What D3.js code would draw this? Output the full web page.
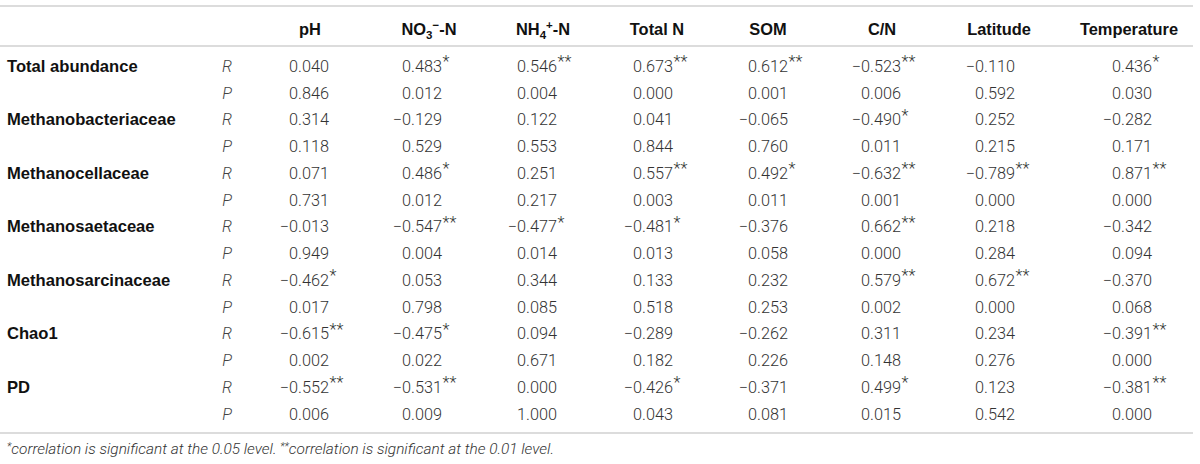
<!DOCTYPE html>
<head>
  <meta charset="utf-8">
  <script src="https://d3js.org/d3.v7.min.js"></script>
  <style>
    body { margin:0; background:#fff; }
    text { font-family: "Liberation Sans", Arial, sans-serif; }
    .lbl { font-weight: bold; fill: #111; font-size: 16.6px; }
    .hdr { font-weight: bold; fill: #111; font-size: 16.4px; }
    .num { font-family: Roboto, "Liberation Sans", sans-serif; font-weight: 300; fill: #333; font-size: 16.3px; }
    .rp { font-family: Roboto, "Liberation Sans", sans-serif; font-style: italic; font-weight: 300; fill: #444; font-size: 16.3px; }
    .note { font-family: Roboto, "Liberation Sans", sans-serif; font-style: italic; font-weight: 300; fill: #333; font-size: 15.4px; }
    .rule { stroke: #dcdcdc; stroke-width: 2px; }
  </style>
</head>
<body>
  <script>
    // column headers (parts: [text, "sub"|"sup"|null])
    var cols = ["pH", "NO3-N", "NH4-N", "Total N", "SOM", "C/N", "Latitude", "Temperature"];
    var colHeaders = [
      [["pH"]],
      [["NO"], ["3", "sub"], ["\u2212", "sup"], ["-N"]],
      [["NH"], ["4", "sub"], ["+", "sup"], ["-N"]],
      [["Total N"]], [["SOM"]], [["C/N"]], [["Latitude"]], [["Temperature"]]
    ];
    var taxa = ["Total abundance", "Methanobacteriaceae", "Methanocellaceae", "Methanosaetaceae",
                "Methanosarcinaceae", "Chao1", "PD"];

    var rValues = [
      [0.040, 0.483, 0.546, 0.673, 0.612, -0.523, -0.110, 0.436],
      [0.314, -0.129, 0.122, 0.041, -0.065, -0.490, 0.252, -0.282],
      [0.071, 0.486, 0.251, 0.557, 0.492, -0.632, -0.789, 0.871],
      [-0.013, -0.547, -0.477, -0.481, -0.376, 0.662, 0.218, -0.342],
      [-0.462, 0.053, 0.344, 0.133, 0.232, 0.579, 0.672, -0.370],
      [-0.615, -0.475, 0.094, -0.289, -0.262, 0.311, 0.234, -0.391],
      [-0.552, -0.531, 0.000, -0.426, -0.371, 0.499, 0.123, -0.381]
    ];
    // number of significance stars on each R value
    var rStars = [
      [0, 1, 2, 2, 2, 2, 0, 1],
      [0, 0, 0, 0, 0, 1, 0, 0],
      [0, 1, 0, 2, 1, 2, 2, 2],
      [0, 2, 1, 1, 0, 2, 0, 0],
      [1, 0, 0, 0, 0, 2, 2, 0],
      [2, 1, 0, 0, 0, 0, 0, 2],
      [2, 2, 0, 1, 0, 1, 0, 2]
    ];
    var pValues = [
      [0.846, 0.012, 0.004, 0.000, 0.001, 0.006, 0.592, 0.030],
      [0.118, 0.529, 0.553, 0.844, 0.760, 0.011, 0.215, 0.171],
      [0.731, 0.012, 0.217, 0.003, 0.011, 0.001, 0.000, 0.000],
      [0.949, 0.004, 0.014, 0.013, 0.058, 0.000, 0.284, 0.094],
      [0.017, 0.798, 0.085, 0.518, 0.253, 0.002, 0.000, 0.068],
      [0.002, 0.022, 0.671, 0.182, 0.226, 0.148, 0.276, 0.000],
      [0.006, 0.009, 1.000, 0.043, 0.081, 0.015, 0.542, 0.000]
    ];
    var footnote = [["*", "sup"], ["correlation is significant at the 0.05 level. "], ["**", "sup"],
                    ["correlation is significant at the 0.01 level."]];

    var W = 1200, H = 464;
    var svg = d3.select("body").append("svg").attr("width", W).attr("height", H);
    var fmt = d3.format(".3f");

    // rows: R and P line for each taxon
    var rows = [];
    taxa.forEach(function(t, i) {
      rows.push({ taxon: t, kind: "R", vals: rValues[i], stars: rStars[i] });
      rows.push({ taxon: null, kind: "P", vals: pValues[i], stars: pValues[i].map(function() { return 0; }) });
    });

    var y = d3.scalePoint().domain(d3.range(rows.length)).range([66, 413.75]);
    var xNum = d3.scaleOrdinal().domain(cols).range([329, 442, 557, 673, 788, 901, 1015, 1152]);
    var xHdr = d3.scaleOrdinal().domain(cols).range([310, 429, 543, 657, 768, 882, 999, 1129]);

    // horizontal rules
    svg.selectAll("line.rule").data([6, 46, 433]).enter().append("line")
      .attr("class", "rule").attr("x1", 0).attr("x2", 1193)
      .attr("y1", function(d) { return d; }).attr("y2", function(d) { return d; });

    // headers
    var hdr = svg.selectAll("text.hdr").data(cols).enter().append("text")
      .attr("class", "hdr").attr("text-anchor", "middle")
      .attr("x", function(d) { return xHdr(d); }).attr("y", 35);
    hdr.each(function(d, i) {
      var el = d3.select(this);
      colHeaders[i].forEach(function(p) {
        var ts = el.append("tspan").text(p[0]);
        if (p[1] === "sub") ts.attr("dy", 4).attr("font-size", "11.5px");
        else if (p[1] === "sup") ts.attr("dy", -10).attr("font-size", "11.5px");
        else if (el.selectAll("tspan").size() > 1) ts.attr("dy", 6);
      });
    });

    var g = svg.selectAll("g.row").data(rows).enter().append("g")
      .attr("class", "row")
      .attr("transform", function(d, i) { return "translate(0," + (y(i) + 5.8) + ")"; });

    g.filter(function(d) { return d.taxon; }).append("text")
      .attr("class", "lbl").attr("x", 7).text(function(d) { return d.taxon; });

    g.append("text").attr("class", "rp").attr("x", 227).attr("text-anchor", "middle")
      .text(function(d) { return d.kind; });

    g.each(function(row) {
      var gg = d3.select(this);
      var cells = gg.selectAll("g.cell").data(row.vals.map(function(v, j) {
          return { v: v, col: cols[j], stars: row.stars[j] };
        })).enter().append("g")
        .attr("class", "cell")
        .attr("transform", function(c) { return "translate(" + xNum(c.col) + ",0)"; });
      cells.append("text").attr("class", "num").attr("text-anchor", "end")
        .text(function(c) { return fmt(c.v); });
      cells.filter(function(c) { return c.stars > 0; }).append("text")
        .attr("class", "num").attr("x", 0.5).attr("y", -4.5).attr("font-size", "10.5px")
        .text(function(c) { return "**".slice(0, c.stars); });
    });

    // footnote
    var fn = svg.append("text").attr("class", "note").attr("x", 7).attr("y", 454);
    footnote.forEach(function(p) {
      var ts = fn.append("tspan").text(p[0]);
      if (p[1] === "sup") ts.attr("font-size", "10.5px").attr("baseline-shift", "4");
    });
  </script>
</body>
